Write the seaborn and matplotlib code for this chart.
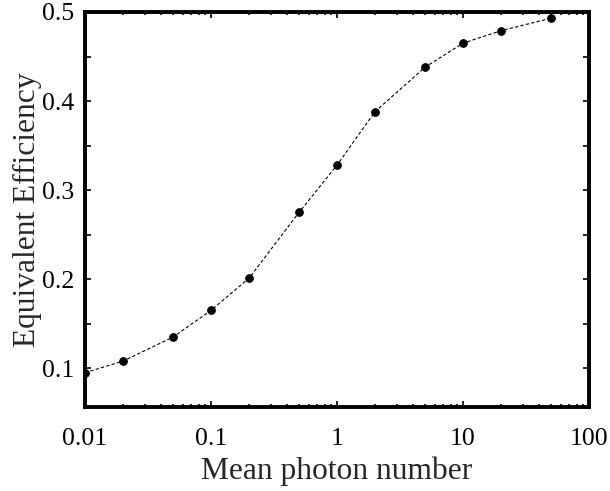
import numpy as np
import pandas as pd
import matplotlib
matplotlib.use("Agg")
import matplotlib.pyplot as plt
import seaborn as sns
from matplotlib.ticker import LogLocator, FixedLocator, MultipleLocator, FuncFormatter

mean_photon = [0.01, 0.02, 0.05, 0.1, 0.2, 0.5, 1, 2, 5, 10, 20, 50]
efficiency = [0.095, 0.108, 0.135, 0.165, 0.201, 0.275, 0.328, 0.388, 0.438, 0.465, 0.479, 0.493]
x_ticks = [0.01, 0.1, 1, 10, 100]
x_labels = ["0.01", "0.1", "1", "10", "100"]
y_ticks = [0.1, 0.2, 0.3, 0.4, 0.5]

df = pd.DataFrame({"mu": mean_photon, "eff": efficiency})

sns.set_style("ticks")
plt.rcParams["font.family"] = ["Liberation Serif", "DejaVu Serif"]

fig = plt.figure(figsize=(6.1, 4.91), dpi=100)
ax = fig.add_axes([85 / 610, 1 - 407 / 491, 504 / 610, 395 / 491])

sns.lineplot(data=df, x="mu", y="eff", ax=ax, color="black", lw=0.8,
             linestyle=(0, (3, 2)), marker="o", markersize=5.5,
             markeredgecolor="black", markerfacecolor="black")

ax.set_xscale("log")
ax.set_xlim(0.01, 100)
ax.set_ylim(0.0565, 0.5)
ax.xaxis.set_major_locator(FixedLocator(x_ticks))
ax.set_xticklabels(x_labels)
ax.xaxis.set_minor_locator(LogLocator(base=10, subs=np.arange(2, 10)))
ax.xaxis.set_minor_formatter(FuncFormatter(lambda v, p: ""))
ax.yaxis.set_major_locator(FixedLocator(y_ticks))
ax.set_yticklabels([str(v) for v in y_ticks])
ax.yaxis.set_minor_locator(MultipleLocator(0.05))

ax.tick_params(which="both", direction="in", top=True, right=True,
               labelsize=18.5, width=1.2, colors="black")
ax.tick_params(axis="x", which="both", pad=15)
ax.tick_params(axis="y", which="both", pad=8)
ax.tick_params(which="major", length=4)
ax.tick_params(which="minor", length=2)
ax.tick_params(axis="y", which="minor", length=4)
for s in ax.spines.values():
    s.set_linewidth(2.8)
    s.set_color("black")

ax.set_xlabel("Mean photon number", fontsize=22.7, labelpad=5)
ax.set_ylabel("Equivalent Efficiency", fontsize=22.7, labelpad=0)

fig.savefig("out.png", dpi=100)
